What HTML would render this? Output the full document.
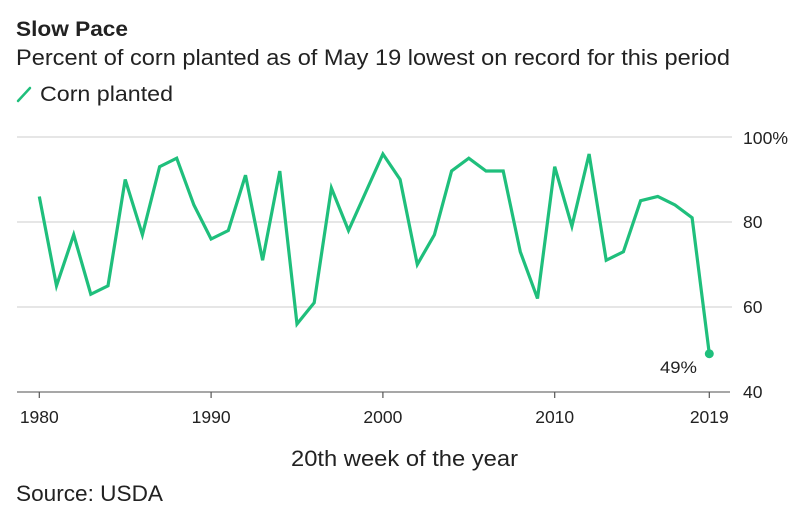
<!DOCTYPE html>
<html>
<head>
<meta charset="utf-8">
<style>
  html, body { margin: 0; padding: 0; background: #ffffff; }
  body { width: 800px; height: 521px; overflow: hidden; }
  svg { display: block; }
  text { font-family: "Liberation Sans", "DejaVu Sans", sans-serif; fill: #222; }
</style>
</head>
<body>
<svg width="800" height="521" viewBox="0 0 800 521" xmlns="http://www.w3.org/2000/svg">
  <rect x="0" y="0" width="800" height="521" fill="#ffffff"/>

  <!-- Header -->
  <text x="16" y="36" font-size="21" font-weight="bold" fill="#111" textLength="112" lengthAdjust="spacingAndGlyphs">Slow Pace</text>
  <text x="16" y="65" font-size="22" textLength="714" lengthAdjust="spacingAndGlyphs">Percent of corn planted as of May 19 lowest on record for this period</text>

  <!-- Legend -->
  <line x1="18" y1="101" x2="30" y2="88" stroke="#1fbf7c" stroke-width="2.5" stroke-linecap="round"/>
  <text x="40" y="101" font-size="21" textLength="133" lengthAdjust="spacingAndGlyphs">Corn planted</text>

  <!-- Gridlines -->
  <g stroke="#dedede" stroke-width="1.5">
    <line x1="17" y1="137" x2="732" y2="137"/>
    <line x1="17" y1="222" x2="732" y2="222"/>
    <line x1="17" y1="307" x2="732" y2="307"/>
  </g>

  <!-- X axis -->
  <line x1="17" y1="392" x2="730" y2="392" stroke="#8a8a8a" stroke-width="1.5"/>
  <g stroke="#555" stroke-width="1.2">
    <line x1="39.3" y1="392" x2="39.3" y2="398"/>
    <line x1="211.1" y1="392" x2="211.1" y2="398"/>
    <line x1="382.9" y1="392" x2="382.9" y2="398"/>
    <line x1="554.7" y1="392" x2="554.7" y2="398"/>
    <line x1="709.3" y1="392" x2="709.3" y2="398"/>
  </g>

  <!-- Y labels -->
  <g font-size="17.5" fill="#333">
    <text x="743" y="144" textLength="45" lengthAdjust="spacingAndGlyphs" fill="#333">100%</text>
    <text x="743" y="228" fill="#333">80</text>
    <text x="743" y="313" fill="#333">60</text>
    <text x="743" y="398" fill="#333">40</text>
  </g>

  <!-- X labels -->
  <g font-size="17.5" text-anchor="middle">
    <text x="39.3" y="423" fill="#333">1980</text>
    <text x="211.1" y="423" fill="#333">1990</text>
    <text x="382.9" y="423" fill="#333">2000</text>
    <text x="554.7" y="423" fill="#333">2010</text>
    <text x="709.3" y="423" fill="#333">2019</text>
  </g>

  <!-- Series -->
  <polyline fill="none" stroke="#1fbf7c" stroke-width="3.2" stroke-linejoin="miter" stroke-miterlimit="4"
    points="39.3,196.5 56.5,285.75 73.7,234.75 90.8,294.25 108.0,285.75 125.2,179.5 142.4,234.75 159.6,166.75 176.7,158.25 193.9,205 211.1,239 228.3,230.5 245.5,175.25 262.6,260.25 279.8,171 297.0,324 314.2,302.75 331.4,188 348.5,230.5 365.7,192.25 382.9,154 400.1,179.5 417.3,264.5 434.4,234.75 451.6,171 468.8,158.25 486.0,171 503.2,171 520.3,251.75 537.5,298.5 554.7,166.75 571.9,226.25 589.1,154 606.2,260.25 623.4,251.75 640.6,200.75 657.8,196.5 675.0,205 692.1,217.75 709.3,353.75"/>
  <circle cx="709.3" cy="353.75" r="4.5" fill="#1fbf7c"/>
  <text x="660" y="373" font-size="17" fill="#333" textLength="37" lengthAdjust="spacingAndGlyphs">49%</text>

  <!-- Axis title & source -->
  <text x="291" y="466" font-size="22" textLength="227" lengthAdjust="spacingAndGlyphs">20th week of the year</text>
  <text x="16" y="501" font-size="22" textLength="147" lengthAdjust="spacingAndGlyphs">Source: USDA</text>
</svg>
</body>
</html>
